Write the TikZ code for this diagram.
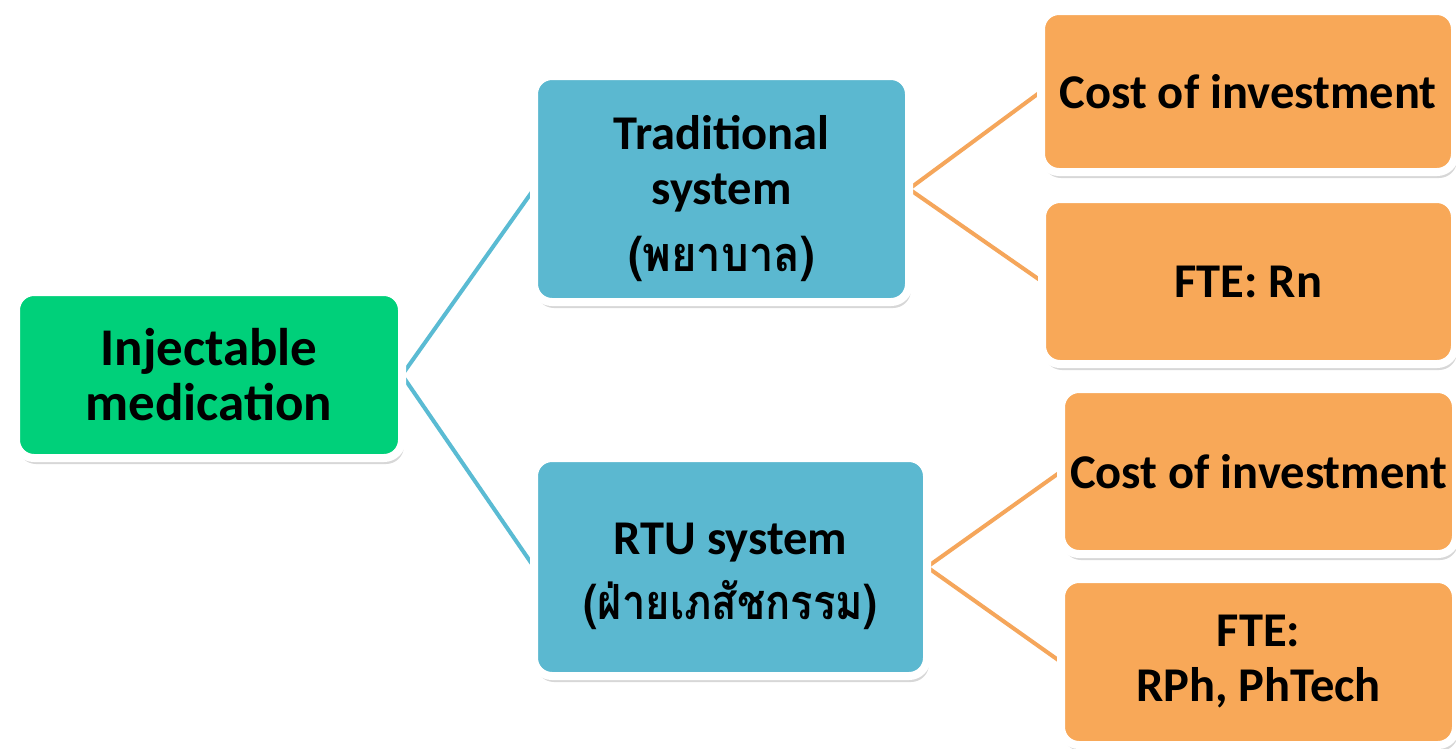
\documentclass[tikz,border=0pt]{standalone}
\usepackage{fontspec}
\usepackage{graphicx}
\setmainfont{Carlito}
\newfontfamily\thaifont[Script=Thai]{Loma}
\newcommand{\thaitext}[2]{\scalebox{#1}[1]{\thaifont\bfseries #2}}
\usetikzlibrary{shadows}
\pgfdeclarelayer{background}
\pgfsetlayers{background,main}
\definecolor{cgreen}{RGB}{0,208,122}
\definecolor{cblue}{RGB}{91,184,208}
\definecolor{corange}{RGB}{248,168,88}
\definecolor{clineblue}{RGB}{90,187,211}
\definecolor{clineorange}{RGB}{245,166,91}
\tikzset{
  boxbase/.style={rectangle, rounded corners=18pt, draw=white, line width=8pt,
    inner sep=0pt, outer sep=0pt, align=center,
    font=\fontsize{48.5}{55}\selectfont\bfseries,
    drop shadow={shadow xshift=2pt, shadow yshift=-6pt, opacity=0.22, fill=black!70}},
  greenbox/.style={boxbase, fill=cgreen, font=\fontsize{53}{55}\selectfont\bfseries},
  bluebox/.style={boxbase, fill=cblue},
  orangebox/.style={boxbase, fill=corange},
  blueline/.style={draw=clineblue, line width=4pt},
  orangeline/.style={draw=clineorange, line width=4pt},
}
\begin{document}
\begin{tikzpicture}[x=1pt, y=-1pt]
\useasboundingbox (0,0) rectangle (1456,748);

\node[greenbox, minimum width=386pt, minimum height=166pt] (inj) at (209,375)
  {Injectable\\medication};
\node[bluebox, minimum width=375pt, minimum height=226pt] (trad) at (721.5,189)
  {\rule{0pt}{54pt}Traditional\\system\\[12pt]\thaitext{0.9}{(พยาบาล)}};
\node[bluebox, minimum width=393pt, minimum height=218pt] (rtu) at (730.5,567)
  {\rule{0pt}{50pt}RTU system\\[10pt]\thaitext{0.86}{(ฝ่ายเภสัชกรรม)}};
\node[orangebox, minimum width=414pt, minimum height=161pt] (c1) at (1248,91.5)
  {Cost of investment};
\node[orangebox, minimum width=413pt, minimum height=165pt] (f1) at (1248.5,281.5)
  {FTE: Rn};
\node[orangebox, minimum width=395pt, minimum height=165pt] (c2) at (1258.5,471.5)
  {Cost of investment};
\node[orangebox, minimum width=395pt, minimum height=166pt] (f2) at (1258.5,662)
  {FTE:\\RPh, PhTech};

\begin{pgfonlayer}{background}
\fill[white] (0,0) rectangle (1456,748);
\draw[blueline] (trad.west) -- (inj.east) -- (rtu.west);
\draw[orangeline] (c1.west) -- (trad.east) -- (f1.west);
\draw[orangeline] (c2.west) -- (rtu.east) -- (f2.west);
\end{pgfonlayer}
\end{tikzpicture}
\end{document}
